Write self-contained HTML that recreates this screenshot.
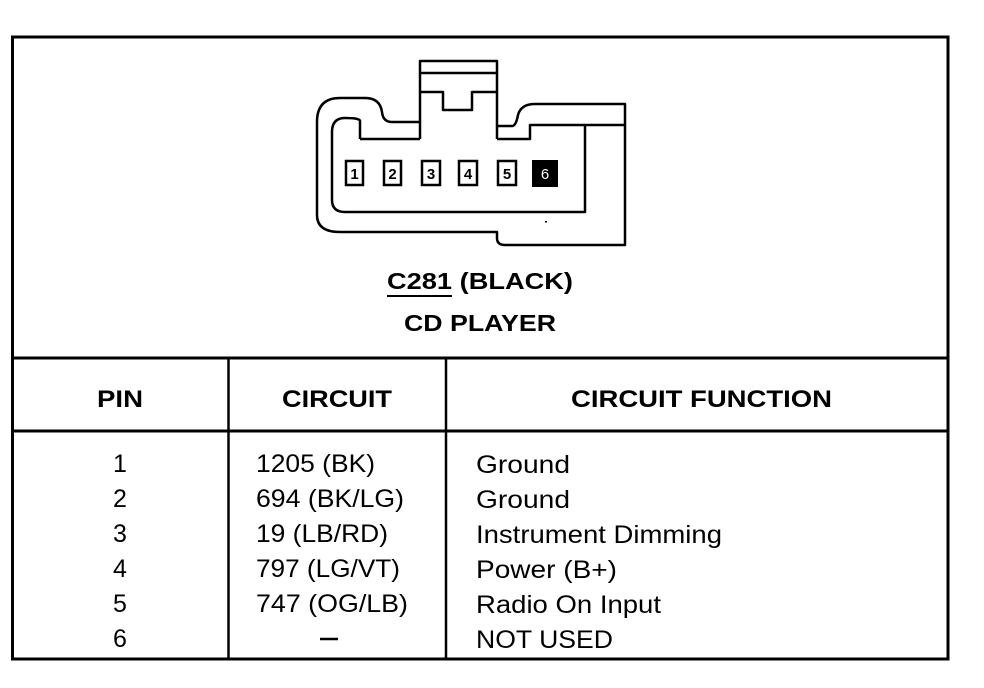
<!DOCTYPE html>
<html><head><meta charset="utf-8"><style>
html,body{margin:0;padding:0;background:#fff;}
svg{display:block;}
text{font-family:"Liberation Sans",Arial,sans-serif;fill:#000;}
</style></head><body>
<svg width="984" height="688" viewBox="0 0 984 688" xmlns="http://www.w3.org/2000/svg">
<rect x="0" y="0" width="984" height="688" fill="#fff"/>
<rect x="12.5" y="37" width="935.5" height="622" fill="none" stroke="#000" stroke-width="3"/>
<line x1="12" y1="358" x2="948" y2="358" stroke="#000" stroke-width="3"/>
<line x1="12" y1="431" x2="948" y2="431" stroke="#000" stroke-width="3"/>
<line x1="228.5" y1="358" x2="228.5" y2="659" stroke="#000" stroke-width="2.5"/>
<line x1="446" y1="358" x2="446" y2="659" stroke="#000" stroke-width="2.5"/>

<g fill="none" stroke="#000" stroke-width="2.5" stroke-linejoin="round">
<path d="M317,215 L317,122 Q317,98 340,98 L365,98 Q380,98 382,112 Q383,122 392,122 L420,122 L420,61 L497,61 L497,126 L512,126 Q516,126 518,115 Q521,104 535,104 L625,104 L625,245 L505,245 Q497,245 497,238 L497,232 L340,232 Q317,232 317,215 Z"/>
<path d="M420,73 L497,73"/>
<path d="M420,92 L443,92 L443,110 L472,110 L472,92 L497,92"/>
<path d="M420,122 L420,139 M497,126 L497,139"/>
<path d="M360,139 L360,121 Q360,118 345,118 Q332,118 332,132 L332,200 Q332,212 345,212 L585,212 L585,125"/>
<path d="M360,139 L420,139"/>
<path d="M497,139 L530,139 L530,125 L625,125"/>
</g>
<g fill="#fff" stroke="#000" stroke-width="2.5">
<rect x="346" y="161" width="17" height="24"/>
<rect x="384" y="161" width="17" height="24"/>
<rect x="422" y="161" width="18" height="24"/>
<rect x="459" y="161" width="18" height="24"/>
<rect x="498" y="161" width="18" height="24"/>
</g>
<rect x="532" y="160" width="26" height="27" fill="#000"/>
<g font-size="15" text-anchor="middle" font-weight="bold">
<text x="354.5" y="179">1</text>
<text x="392.5" y="179">2</text>
<text x="431" y="179">3</text>
<text x="468" y="179">4</text>
<text x="507" y="179">5</text>
<text x="545" y="179" style="fill:#fff;font-weight:normal">6</text>
</g>
<rect x="545" y="221" width="2" height="1.5" fill="#000"/>

<text x="480" y="289" font-size="23" font-weight="bold" text-anchor="middle" textLength="186" lengthAdjust="spacingAndGlyphs">C281 (BLACK)</text>
<line x1="387" y1="296" x2="452" y2="296" stroke="#000" stroke-width="2"/>
<text x="480" y="331" font-size="23" font-weight="bold" text-anchor="middle" textLength="152" lengthAdjust="spacingAndGlyphs">CD PLAYER</text>

<g font-size="24" font-weight="bold">
<text x="97" y="407" textLength="46" lengthAdjust="spacingAndGlyphs">PIN</text>
<text x="282" y="407" textLength="110" lengthAdjust="spacingAndGlyphs">CIRCUIT</text>
<text x="571" y="407" textLength="261" lengthAdjust="spacingAndGlyphs">CIRCUIT FUNCTION</text>
</g>

<g font-size="25">
<g text-anchor="middle">
<text x="120" y="472">1</text>
<text x="120" y="507">2</text>
<text x="120" y="542">3</text>
<text x="120" y="577">4</text>
<text x="120" y="612">5</text>
<text x="120" y="647">6</text>
</g>
<text x="256" y="472" textLength="119" lengthAdjust="spacingAndGlyphs">1205 (BK)</text>
<text x="256" y="507" textLength="148" lengthAdjust="spacingAndGlyphs">694 (BK/LG)</text>
<text x="256" y="542" textLength="132" lengthAdjust="spacingAndGlyphs">19 (LB/RD)</text>
<text x="256" y="577" textLength="144" lengthAdjust="spacingAndGlyphs">797 (LG/VT)</text>
<text x="256" y="612" textLength="152" lengthAdjust="spacingAndGlyphs">747 (OG/LB)</text>
<line x1="320" y1="639" x2="338" y2="639" stroke="#000" stroke-width="2.5"/>
<text x="476" y="473" textLength="94" lengthAdjust="spacingAndGlyphs">Ground</text>
<text x="476" y="508" textLength="94" lengthAdjust="spacingAndGlyphs">Ground</text>
<text x="476" y="543" textLength="246" lengthAdjust="spacingAndGlyphs">Instrument Dimming</text>
<text x="476" y="578" textLength="141" lengthAdjust="spacingAndGlyphs">Power (B+)</text>
<text x="476" y="613" textLength="185" lengthAdjust="spacingAndGlyphs">Radio On Input</text>
<text x="476" y="648" textLength="137" lengthAdjust="spacingAndGlyphs">NOT USED</text>
</g>
</svg>
</body></html>
